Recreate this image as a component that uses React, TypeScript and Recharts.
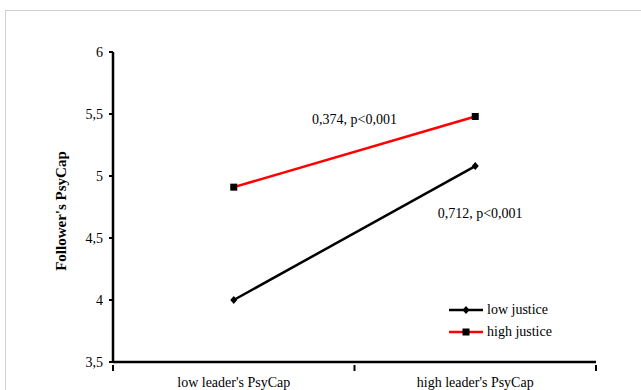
import React from "react";
import { LineChart, Line, XAxis, YAxis, ReferenceDot } from "recharts";

const categories = ["low leader's PsyCap", "high leader's PsyCap"];
const lowJustice = [4.0, 5.08];
const highJustice = [4.91, 5.48];
const yTicks = [3.5, 4, 4.5, 5, 5.5, 6];
const notes = [
  { text: "0,374, p<0,001", x: 1.0, y: 5.46 },
  { text: "0,712, p<0,001", x: 1.52, y: 4.7 },
];

const data = categories.map((c, i) => ({
  x: i + 0.5,
  name: c,
  low: lowJustice[i],
  high: highJustice[i],
}));

const FONT = "Liberation Serif, Times New Roman, serif";

const Diamond = (p: any) => {
  const { cx, cy } = p;
  if (cx == null || cy == null) return null;
  return <path d={`M${cx},${cy - 4} L${cx + 3.5},${cy} L${cx},${cy + 4} L${cx - 3.5},${cy} Z`} fill="#000" />;
};

const Square = (p: any) => {
  const { cx, cy } = p;
  if (cx == null || cy == null) return null;
  return <rect x={cx - 3.5} y={cy - 3.5} width={7} height={7} fill="#000" />;
};

const XTick = (p: any) => {
  const { x, y, payload } = p;
  const v = payload.value;
  if (Number.isInteger(v)) {
    return <line x1={x} y1={y - 3} x2={x} y2={y + 3} stroke="#000" strokeWidth={2} />;
  }
  return (
    <text x={x} y={y + 19} textAnchor="middle" fontSize={14} style={{ fontFamily: FONT }} fill="#000">
      {categories[Math.floor(v)]}
    </text>
  );
};

const LegendBox = () => (
  <div style={{ position: "absolute", left: 449, top: 299, fontFamily: FONT, fontSize: 14, color: "#000" }}>
    <div style={{ display: "flex", alignItems: "center", height: 22 }}>
      <svg width={34} height={10}>
        <line x1={0} y1={5} x2={34} y2={5} stroke="#000" strokeWidth={2.5} />
        <path d="M17,1 L20.5,5 L17,9 L13.5,5 Z" fill="#000" />
      </svg>
      <span style={{ marginLeft: 4 }}>low justice</span>
    </div>
    <div style={{ display: "flex", alignItems: "center", height: 22 }}>
      <svg width={34} height={10}>
        <line x1={0} y1={5} x2={34} y2={5} stroke="#ff0000" strokeWidth={2.5} />
        <rect x={13.5} y={1.5} width={7} height={7} fill="#000" />
      </svg>
      <span style={{ marginLeft: 4 }}>high justice</span>
    </div>
  </div>
);

export default function App() {
  return (
    <div style={{ position: "absolute", left: 0, top: 0, width: 641, height: 390, background: "#fff", overflow: "hidden", fontFamily: FONT }}>
      <div style={{ position: "absolute", left: 5, top: 10, width: 640, height: 390, border: "1px solid #d0d0d0" }} />
      <LineChart width={641} height={390} data={data} margin={{ top: 52, right: 45, bottom: 0, left: 0 }} style={{ fontFamily: FONT }}>
        <XAxis
          dataKey="x"
          type="number"
          domain={[0, 2]}
          ticks={[0, 0.5, 1, 1.5, 2]}
          tick={<XTick />}
          tickLine={false}
          tickMargin={0}
          axisLine={{ stroke: "#000", strokeWidth: 2.5 }}
          height={28}
          interval={0}
        />
        <YAxis
          type="number"
          domain={[3.5, 6]}
          ticks={yTicks}
          width={113}
          tickFormatter={(v: number) => String(v).replace(".", ",")}
          tick={{ fontSize: 14, fontFamily: FONT, fill: "#000" }}
          tickLine={{ stroke: "#000", strokeWidth: 2 }}
          tickSize={4}
          tickMargin={6}
          axisLine={{ stroke: "#000", strokeWidth: 2.5 }}
          label={{
            content: (props: any) => {
              const vb = props.viewBox || {};
              const cx = (vb.x ?? 0) + 61;
              const cy = (vb.y ?? 0) + (vb.height ?? 0) / 2 + 4;
              return (
                <text x={cx} y={cy} transform={`rotate(-90, ${cx}, ${cy})`} textAnchor="middle" dominantBaseline="central" fontSize={15} fontWeight="bold" style={{ fontFamily: FONT }} fill="#000">
                  Follower's PsyCap
                </text>
              );
            },
          }}
        />
        <Line dataKey="low" stroke="#000" strokeWidth={2.5} dot={<Diamond />} activeDot={false} isAnimationActive={false} />
        <Line dataKey="high" stroke="#ff0000" strokeWidth={2.5} dot={<Square />} activeDot={false} isAnimationActive={false} />
        {notes.map((n) => (
          <ReferenceDot
            key={n.text}
            x={n.x}
            y={n.y}
            r={0}
            fill="none"
            stroke="none"
            label={{ value: n.text, position: "center", fontSize: 14, fontFamily: FONT, fill: "#000" }}
          />
        ))}
      </LineChart>
      <LegendBox />
    </div>
  );
}
